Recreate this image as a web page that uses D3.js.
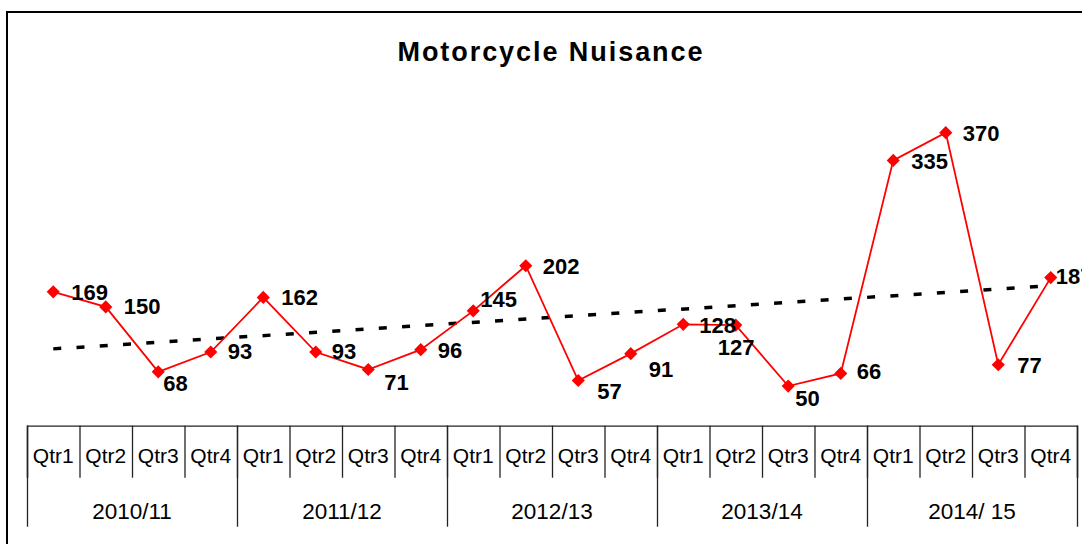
<!DOCTYPE html>
<html>
<head>
<meta charset="utf-8">
<script src="https://cdn.jsdelivr.net/npm/d3@7"></script>
<style>
body { margin: 0; background: #fff; }
svg { display: block; font-family: "Liberation Sans", Arial, sans-serif; }
.qtr text { font-size: 21px; fill: #000; }
.year text { font-size: 22.5px; fill: #000; }
.tick line, .domain { stroke: #222; stroke-width: 1.3px; }
</style>
</head>
<body>
<script>
// Daten
var quarters = ["Qtr1", "Qtr2", "Qtr3", "Qtr4"];
var years = ["2010/11", "2011/12", "2012/13", "2013/14", "2014/ 15"];
var values = [169, 150, 68, 93, 162, 93, 71, 96, 145, 202, 57, 91, 128, 127, 50, 66, 335, 370, 77, 187];
var title = "Motorcycle Nuisance";

// Label-Verschiebung (dx, dy) gegenüber dem Punkt
var labelShift = [[18,0],[18,-1],[5,11],[17,-1],[18,0],[16,-1],[16,13],[17,0],[7,-12],[17,0],
                  [19,11],[18,15],[16,1],[-18,22],[7,12],[16,-2],[18,1],[17,0],[19,0],[5,-2]];

var W = 1082, H = 544;
var left = 27, right = 1077, axisY = 425.7;

var svg = d3.select("body").append("svg")
  .attr("width", W)
  .attr("height", H);

// Rahmen (läuft rechts und unten aus dem Bild)
svg.append("rect")
  .attr("x", 7).attr("y", 12)
  .attr("width", 1100).attr("height", 560)
  .attr("fill", "none")
  .attr("stroke", "#000")
  .attr("stroke-width", 2);

// Titel
svg.append("text")
  .attr("x", 550).attr("y", 61)
  .attr("text-anchor", "middle")
  .attr("font-size", 27)
  .attr("font-weight", "bold")
  .attr("textLength", 305)
  .text(title);

// Skalen
var idx = d3.range(values.length);
var xScale = d3.scaleBand().domain(idx).range([left, right]);
var xEdge = d3.scaleLinear().domain([0, values.length]).range([left, right]);
var yScale = d3.scaleLinear().domain([0, 400]).range([axisY, axisY - 400 * 0.792]);
var xc = function (i) { return xScale(i) + xScale.bandwidth() / 2; };

// Kategorie-Achse: Trennstriche der Quartale
svg.append("g")
  .attr("transform", "translate(0," + axisY + ")")
  .call(d3.axisBottom(xEdge).tickValues(d3.range(0, values.length + 1)).tickSize(52).tickFormat(""));

// Trennstriche der Jahre
svg.append("g")
  .attr("transform", "translate(0," + axisY + ")")
  .call(d3.axisBottom(xEdge).tickValues(d3.range(0, values.length + 1, 4)).tickSize(101).tickFormat(""))
  .select(".domain").remove();

// Quartal-Beschriftung
svg.append("g")
  .attr("class", "qtr")
  .attr("transform", "translate(0," + axisY + ")")
  .call(d3.axisBottom(xScale).tickSize(0).tickFormat(function (i) { return quarters[i % 4]; }))
  .call(function (g) { g.select(".domain").remove(); g.selectAll("text").attr("dy", 0).attr("y", 37.5); });

// Jahr-Beschriftung
var xYear = d3.scaleBand().domain(years).range([left, right]);
svg.append("g")
  .attr("class", "year")
  .attr("transform", "translate(0," + axisY + ")")
  .call(d3.axisBottom(xYear).tickSize(0).tickFormat(function (d) { return d; }))
  .call(function (g) { g.select(".domain").remove(); g.selectAll("text").attr("dy", 0).attr("y", 93.5); });

// Trendlinie (lineare Regression)
var n = values.length;
var mx = d3.mean(idx), my = d3.mean(values);
var slope = d3.sum(idx, function (i) { return (i - mx) * (values[i] - my); }) /
            d3.sum(idx, function (i) { return (i - mx) * (i - mx); });
var icpt = my - slope * mx;

svg.append("line")
  .attr("x1", xc(0)).attr("y1", yScale(icpt))
  .attr("x2", xc(n - 1)).attr("y2", yScale(icpt + slope * (n - 1)))
  .attr("stroke", "#000")
  .attr("stroke-width", 3.5)
  .attr("stroke-dasharray", "8,15.3");

// Datenlinie
var line = d3.line()
  .x(function (d, i) { return xc(i); })
  .y(function (d) { return yScale(d); });

svg.append("path")
  .datum(values)
  .attr("d", line)
  .attr("fill", "none")
  .attr("stroke", "#ff0000")
  .attr("stroke-width", 1.8);

// Rauten
svg.selectAll(".pt")
  .data(values)
  .enter().append("path")
  .attr("class", "pt")
  .attr("d", d3.symbol().type(d3.symbolDiamond2).size(110))
  .attr("transform", function (d, i) { return "translate(" + xc(i) + "," + yScale(d) + ")"; })
  .attr("fill", "#ff0000");

// Wertbeschriftung
svg.selectAll(".lbl")
  .data(values)
  .enter().append("text")
  .attr("class", "lbl")
  .attr("x", function (d, i) { return xc(i) + labelShift[i][0]; })
  .attr("y", function (d, i) { return yScale(d) + labelShift[i][1]; })
  .attr("dy", "0.36em")
  .attr("font-size", 22)
  .attr("font-weight", "bold")
  .text(function (d) { return d; });
</script>
</body>
</html>
